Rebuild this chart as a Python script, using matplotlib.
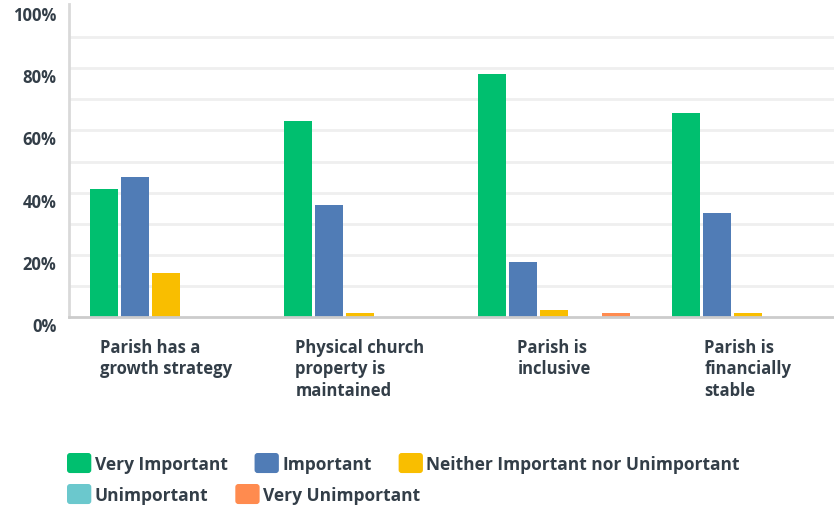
import matplotlib
matplotlib.use("Agg")
import matplotlib.pyplot as plt
from matplotlib.patches import Patch, FancyBboxPatch
from matplotlib.legend_handler import HandlerPatch
import numpy as np

categories = ["Parish has a\ngrowth strategy", "Physical church\nproperty is\nmaintained",
              "Parish is\ninclusive", "Parish is\nfinancially\nstable"]
series_names = ["Very Important", "Important", "Neither Important nor Unimportant",
                "Unimportant", "Very Unimportant"]
very_important = [41.0, 63.0, 78.0, 65.5]
important = [45.0, 36.0, 17.7, 33.5]
neither = [14.0, 1.3, 2.3, 1.3]
unimportant = [0.0, 0.0, 0.0, 0.0]
very_unimportant = [0.0, 0.0, 1.3, 0.0]
yticks = [0, 20, 40, 60, 80, 100]
ytick_labels = ["0%", "20%", "40%", "60%", "80%", "100%"]

colors = ["#00bf6f", "#507cb6", "#f9be00", "#6bc8cd", "#ff8b4f"]
text_color = "#333e48"

plt.rcParams['font.family'] = ['Open Sans', 'DejaVu Sans']

W, H = 834, 510
fig = plt.figure(figsize=(W / 100, H / 100), dpi=100)
ax = fig.add_axes([69 / W, (H - 318) / H, (845 - 69) / W, (318 - 7) / H])

values = [very_important, important, neither, unimportant, very_unimportant]
x = np.arange(len(categories))
step = 31 / 194
width = 28 / 194
for i, (vals, c) in enumerate(zip(values, colors)):
    ax.bar(x + (i - 2) * step, vals, width=width, color=c, zorder=3)

ax.set_xlim(-0.5, 3.5)
ax.set_ylim(0, 100)
for y in range(10, 100, 10):
    ax.axhline(y, color="#efefef", lw=2, zorder=1)

for s in ["top", "right"]:
    ax.spines[s].set_visible(False)
ax.spines["left"].set_color("#d9d9d9")
ax.spines["left"].set_linewidth(2)
ax.spines["left"].set_bounds(0, 100.5)
ax.spines["bottom"].set_color("#cccccc")
ax.spines["bottom"].set_linewidth(2)
ax.spines["bottom"].set_zorder(4)

ax.set_yticks(yticks)
ax.set_yticklabels(ytick_labels, fontsize=12, fontweight="bold", color=text_color)
for lab in ax.get_yticklabels():
    lab.set_va("top")
ax.tick_params(axis="y", length=0, pad=9)

ax.set_xticks(x)
ax.set_xticklabels(categories, fontsize=12, fontweight="bold", color=text_color,
                   linespacing=1.24)
for lab in ax.get_xticklabels():
    lab.set_multialignment("left")
ax.tick_params(axis="x", length=0, pad=15)


def rounded_box(legend, orig_handle, xdescent, ydescent, width, height, fontsize):
    return FancyBboxPatch((-xdescent, -ydescent), width, height,
                          boxstyle="round,pad=0,rounding_size=2.2")


handler = {Patch: HandlerPatch(patch_func=rounded_box)}
handles = [Patch(facecolor=c, edgecolor="none") for c in colors]
leg_kw = dict(frameon=False, fontsize=12.5, handlelength=1.4, handleheight=1.4,
              handletextpad=0.2, columnspacing=1.55, borderpad=0, borderaxespad=0,
              labelcolor=text_color, handler_map=handler)
leg1 = fig.legend(handles[:3], series_names[:3], ncol=3, loc="upper left",
                  bbox_to_anchor=(67 / W, 1 - 454 / H), **leg_kw)
leg2 = fig.legend(handles[3:], series_names[3:], ncol=2, loc="upper left",
                  bbox_to_anchor=(67 / W, 1 - 485 / H), **leg_kw)
for leg in (leg1, leg2):
    for t in leg.get_texts():
        t.set_fontweight("bold")

fig.savefig("out.png", dpi=100)
